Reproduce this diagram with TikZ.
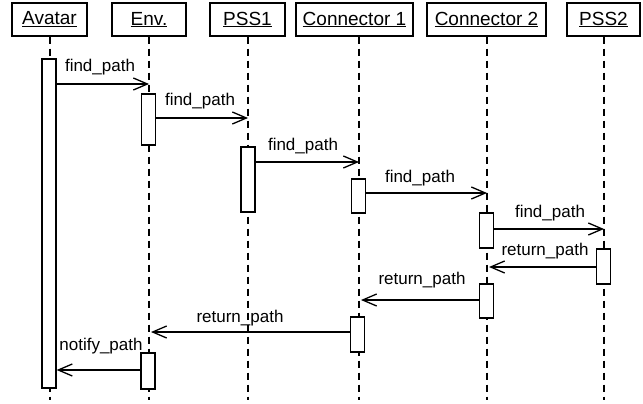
\documentclass[tikz,border=0pt]{standalone}
\usepackage{fontspec}
\setmainfont{Liberation Sans}
\usetikzlibrary{arrows.meta}
\begin{document}
\begin{tikzpicture}[x=1pt,y=-1pt,
  hdr/.style={draw, line width=1.3pt, minimum height=33pt, inner sep=0pt, font=\fontsize{19}{21}\selectfont},
  bar/.style={draw, fill=white, line width=1.3pt, minimum width=14pt, inner sep=0pt},
  life/.style={line width=1.3pt, dash pattern=on 7pt off 5pt},
  msg/.style={line width=1.3pt, -{Straight Barb[length=14pt,width=12pt]}},
  lbl/.style={anchor=base, inner sep=0pt, font=\fontsize{17}{20}\selectfont}]
\useasboundingbox (0,0) rectangle (643,404);
% headers
\node[hdr, minimum width=75pt]  (avatar) at (49.5,19.5) {\underline{Avatar}};
\node[hdr, minimum width=74pt]  (env)    at (149,19.5)  {\underline{Env.}};
\node[hdr, minimum width=75pt]  (pss1)   at (247.5,19.5){\underline{PSS1}};
\node[hdr, minimum width=117pt] (con1)   at (354.5,19.5){\underline{Connector 1}};
\node[hdr, minimum width=119pt] (con2)   at (486.5,19.5){\underline{Connector 2}};
\node[hdr, minimum width=73pt]  (pss2)   at (603.5,19.5){\underline{PSS2}};
% lifeline ends
\coordinate (avL) at (50,400);
\coordinate (envL) at (149,400);
\coordinate (pss1L) at (248,400);
\coordinate (con1L) at (359,400);
\coordinate (con2L) at (487,400);
\coordinate (pss2L) at (604,400);
\draw[life] (avL |- avatar.south) -- (avL);
\draw[life] (envL |- env.south) -- (envL);
\draw[life] (pss1L |- pss1.south) -- (pss1L);
\draw[life] (con1L |- con1.south) -- (con1L);
\draw[life] (con2L |- con2.south) -- (con2L);
\draw[life] (pss2L |- pss2.south) -- (pss2L);
% activation bars
\node[bar, minimum height=329pt] (avB)   at (49,223.5) {};
\node[bar, minimum height=51pt]  (envB1) at (148.5,119.5) {};
\node[bar, minimum height=65pt]  (pss1B) at (248,179.5) {};
\node[bar, minimum height=34pt]  (c1B1)  at (358.5,196) {};
\node[bar, minimum height=35pt]  (c2B1)  at (486.5,230.5) {};
\node[bar, minimum height=35pt]  (pss2B) at (603.5,266.5) {};
\node[bar, minimum height=34pt]  (c2B2)  at (486.5,301) {};
\node[bar, minimum height=35pt]  (c1B2)  at (357.5,334.5) {};
\node[bar, minimum height=36pt]  (envB2) at (148,371) {};
% message end points
\coordinate (m1) at (149,84);
\coordinate (m2) at (248,118);
\coordinate (m3) at (359,162);
\coordinate (m4) at (487,193);
\coordinate (m5) at (604,229);
\coordinate (m6) at (489,267);
\coordinate (m7) at (361,300);
\coordinate (m8) at (151,332);
\coordinate (m9) at (0,370);
% messages
\draw[msg] (avB.east |- m1) -- (m1);
\draw[msg] (envB1.east |- m2) -- (m2);
\draw[msg] (pss1B.east |- m3) -- (m3);
\draw[msg] (c1B1.east |- m4) -- (m4);
\draw[msg] (c2B1.east |- m5) -- (m5);
\draw[msg] (pss2B.west |- m6) -- (m6);
\draw[msg] (c2B2.west |- m7) -- (m7);
\draw[msg] (c1B2.west |- m8) -- (m8);
\draw[msg] (envB2.west |- m9) -- (avB.east |- m9);
% labels
\node[lbl] (l1) at (100,71)  {find\_path};
\node[lbl] (l2) at (200,106) {find\_path};
\node[lbl] (l3) at (303,150) {find\_path};
\node[lbl] (l4) at (420,182) {find\_path};
\node[lbl] (l5) at (550,217) {find\_path};
\node[lbl] (l6) at (545,255) {return\_path};
\node[lbl] (l7) at (422,284) {return\_path};
\node[lbl] (l8) at (240,322) {return\_path};
\node[lbl] (l9) at (101,350) {notify\_path};
\end{tikzpicture}
\end{document}
